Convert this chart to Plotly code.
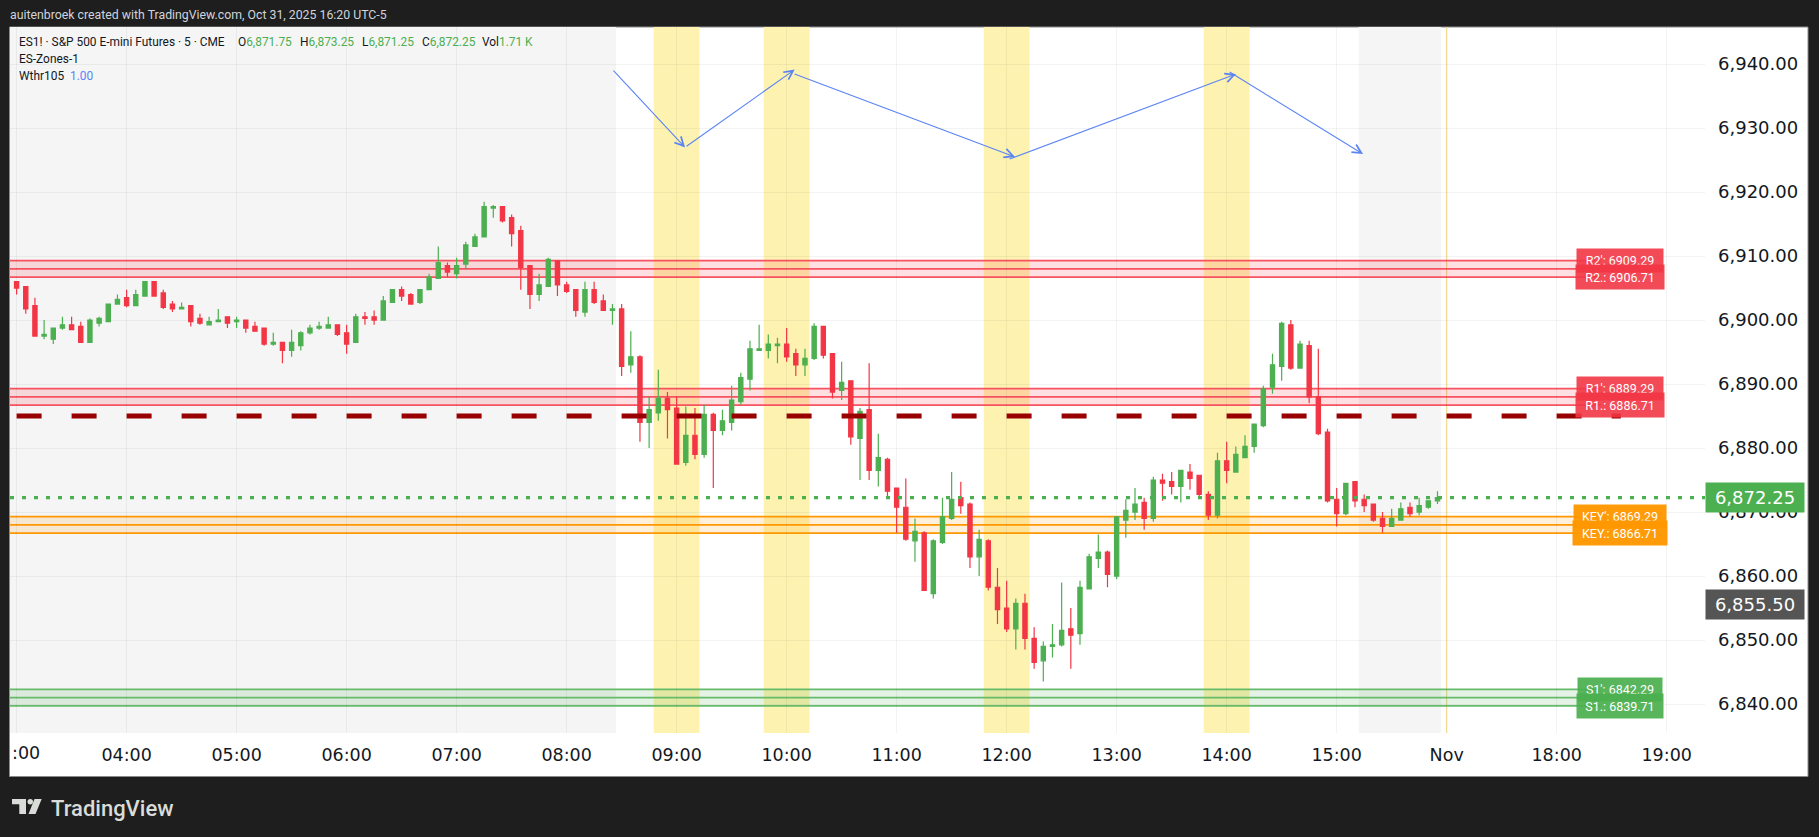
import pandas as pd
import plotly.graph_objects as go

open_vals = [6906,6905.25,6902.25,6897.5,6897,6898.75,6899.25,6899,6896.5,6899.5,6899.75,6902.5,6903.5,6902.25,6903.75,6906,
6904.25,6902.5,6901.75,6902.25,6900.25,6899.25,6899.75,6900.5,6899.75,6900,6899,6898.75,6896.25,6896.5,6895.25,6896,
6898,6898.75,6898.75,6899.25,6898,6896.5,6900.5,6900.5,6900,6902.75,6904.75,6904,6902.75,6904.75,6906.5,6908.5,
6907.25,6908.75,6911.5,6913,6917.5,6917.75,6916,6914,6908.5,6904,6905.25,6909.25,6905.5,6904.75,6901.25,6904.75,
6903,6901.5,6901.75,6893,6894.25,6884,6885.5,6887.75,6886.25,6877.75,6882,6879,6885.25,6882.75,6884,6887.25,
6890.75,6895.25,6895.25,6896,6896.25,6894.75,6893,6894,6899,6894.75,6889,6890.5,6881.5,6886,6876.5,6878.25,
6873.75,6870.75,6865.5,6866.75,6857.25,6865.25,6869,6872.25,6871.25,6863,6865.5,6858.25,6855,6851.75,6855.75,6850.25,
6846.75,6849,6849.25,6851.75,6851,6858,6862.75,6863.75,6860,6868.75,6870,6871.5,6869,6875,6874.75,6874,
6876.25,6875.75,6872.75,6869.5,6878,6876.25,6878.5,6880.25,6883.5,6889.5,6892.75,6899.25,6892.5,6896,6888,6882.5,
6872,6869.75,6874.75,6872,6871.25,6869,6867.75,6868.75,6870.75,6870,6870.75,6871.75]
high_vals = [6906,6905.25,6903.5,6900,6898.75,6900.5,6900.5,6899.75,6900.25,6900.5,6902.5,6904,6904.75,6904.75,6906,6906,
6904.75,6903,6902.75,6902.25,6901,6900.5,6901.75,6900.5,6900.5,6900,6899.75,6898.75,6898,6896.5,6898.5,6898.25,
6899.25,6899.75,6900.5,6899.25,6899.25,6901,6901.25,6901.5,6903.75,6904.75,6905.25,6904.25,6904.75,6907.25,6911.5,6909,
6909.75,6912.25,6913.5,6918.5,6918,6917.75,6916.5,6914.75,6908.5,6907.25,6909.75,6909.25,6906,6904.75,6906,6906,
6904,6902.5,6902.5,6898.25,6894.5,6888,6892.25,6888.75,6888,6886.5,6886.25,6886.75,6885.5,6886,6889.75,6891.75,
6896.75,6899.25,6897.75,6897.25,6898.75,6895.5,6895.5,6899.5,6899,6894.75,6893.5,6890.5,6886.25,6893.25,6882.25,6878.5,
6873.75,6875.25,6869,6867,6865.75,6872.25,6876.25,6874.75,6871.5,6867.25,6865.75,6861.25,6859.25,6856.5,6857.25,6852,
6849.75,6852.5,6859,6855,6859.25,6863.5,6866.5,6864,6869.25,6872,6873.75,6872.25,6875.5,6876,6876.25,6876.5,
6877.5,6875.75,6873.25,6879.25,6881,6880.25,6882,6883.75,6889.75,6894.75,6899.75,6900,6896.75,6896.75,6895.5,6883,
6873.75,6874.5,6874.75,6872.75,6871.25,6870,6870.5,6871.5,6871.5,6872.25,6871.75,6873.25]
low_vals = [6904,6901,6897.5,6897,6896.25,6898.5,6898.5,6896.5,6896.5,6899,6899.75,6902.5,6902,6902.25,6903.75,6903.75,
6901.75,6901.25,6901.75,6899,6899.25,6899.25,6899.75,6898.75,6898.75,6898,6898.25,6896,6896,6893.25,6894.25,6895.25,
6897.75,6898.5,6898.75,6897.5,6894.75,6896.5,6899.25,6899.25,6900,6902.75,6903,6902.5,6902.5,6904.75,6906.5,6906.75,
6906.5,6908,6911.5,6913,6916,6915.25,6911.5,6904.75,6901.75,6903,6905.25,6903.75,6904.25,6900.5,6900.5,6902.5,
6901.5,6899.25,6891.25,6891.75,6881,6880,6884.25,6881.5,6877.5,6877.25,6878.25,6878.5,6873.75,6882,6882.75,6886.75,
6889,6895.25,6894,6893.25,6893.5,6891.25,6891.25,6893.75,6894,6887.75,6887.5,6880.5,6875,6875,6874,6872.5,
6866.75,6865.5,6862.25,6857.75,6856.5,6865,6868.75,6869.75,6861.25,6860,6857.75,6852.5,6851.25,6848.5,6848.5,6845.5,
6843.5,6847.25,6849,6845.5,6849.25,6858,6861.25,6858.25,6859.5,6866,6868.75,6867.25,6868.5,6871.75,6872.75,6871.5,
6873.5,6872.5,6868.75,6869,6874.5,6876.25,6878.5,6879.25,6883.25,6888.5,6890.5,6892.25,6892.5,6887,6882,6871.5,
6867.75,6869.5,6870.75,6870,6868.5,6866.75,6867.75,6868.75,6869.25,6869.5,6870.5,6871.25]
close_vals = [6905,6901.75,6897.5,6897.75,6898.75,6899.25,6898.5,6896.5,6900,6900.25,6902.5,6903.25,6902.25,6904,6906,6903.75,
6902,6901.75,6902,6899.75,6899.5,6899.75,6900,6899.5,6900,6898.75,6898.25,6896.25,6896.5,6895.25,6896.5,6898,
6898.75,6899,6899.25,6897.75,6896.25,6900.5,6900.25,6900,6903,6904.75,6903.75,6902.5,6904.75,6906.75,6909,6907.5,
6908.5,6911.75,6913,6917.75,6917.75,6915.5,6913.5,6908.25,6904,6905.5,6909.5,6905.5,6904.5,6901.5,6904.75,6902.75,
6901.5,6901.75,6892.75,6894.25,6884,6886,6887.75,6886,6877.5,6882,6879,6885.25,6882.75,6884.25,6887.5,6891,
6895.5,6895.5,6896.25,6896.25,6894.25,6893,6894,6899,6894.5,6888.75,6890.25,6881.75,6885.75,6876.5,6878.5,6873.25,
6870.75,6865.75,6867,6857.75,6865.5,6869.25,6872,6871,6863,6865.75,6858.25,6854.75,6851.75,6855.75,6850.25,6846.5,
6849,6849.25,6851.5,6850.75,6858.25,6863,6863.75,6860.25,6869.25,6870.25,6871.25,6869,6875,6874.5,6874,6876.5,
6875.25,6872.75,6869.5,6878,6876.5,6879,6880.25,6883.75,6889.25,6893,6899.5,6892.5,6896.25,6888,6882.25,6871.75,
6869.75,6874.5,6871.75,6871,6868.75,6867.75,6869,6870.5,6869.75,6871,6871.75,6872.25]

day = "2025-10-31 "
bar_times = pd.date_range(day + "03:00", periods=len(open_vals), freq="5min")

tick_positions = ["03:00","04:00","05:00","06:00","07:00","08:00","09:00","10:00","11:00","12:00","13:00","14:00","15:00","16:00","17:00","18:00"]
tick_labels = ["03:00","04:00","05:00","06:00","07:00","08:00","09:00","10:00","11:00","12:00","13:00","14:00","15:00","Nov","18:00","19:00"]

yellow_starts = ["08:47:30","09:47:30","11:47:30","13:47:30"]
yellow_ends = ["09:12:30","10:12:30","12:12:30","14:12:30"]
offhour_starts = ["02:56:24","15:12:00"]
offhour_ends = ["08:27:00","15:57:00"]

zone_names = ["R2","R1","KEY","S1"]
zone_tops = [6909.29,6889.29,6869.29,6842.29]
zone_mids = [6908,6888,6868,6841]
zone_bottoms = [6906.71,6886.71,6866.71,6839.71]
zone_lines = ["#f7525f","#f7525f","#ff9800","#66bb6a"]
zone_fills = ["rgba(247,82,95,0.18)","rgba(247,82,95,0.18)","rgba(255,152,0,0.14)","rgba(76,175,80,0.15)"]
zone_tags = ["rgba(242,54,69,0.9)","rgba(242,54,69,0.9)","rgba(255,152,0,0.97)","rgba(76,175,80,0.93)"]
zone_widths = [82,82,88,80]

last_price = 6872.25
prev_close = 6855.50
dash_level = 6885

arrow_from_t = ["08:24:48","09:04:36","10:03:30","12:00:48","14:00:48"]
arrow_from_p = [6939.2,6927.0,6938.55,6925.08,6938.9]
arrow_to_t = ["09:04:36","10:04:24","12:04:36","14:05:06","15:14:24"]
arrow_to_p = [6926.98,6939.14,6925.5,6938.44,6925.94]

W, H = 1819, 837
L, R, T, B = 10, 1705, 27, 733
x_start = day + "02:56:24"
x_end = day + "18:20:54"
y_low, y_high = 6835.47, 6945.8

def px(v): return (v - L) / (R - L)
def py(v): return (B - v) / (B - T)

shapes = []
shapes.append(dict(type="rect", xref="paper", yref="paper", x0=px(9.5), x1=px(1808), y0=py(776.5), y1=py(27),
                   fillcolor="#ffffff", line=dict(color="#8a8a8a", width=1), layer="below"))
for a, b in zip(offhour_starts, offhour_ends):
    shapes.append(dict(type="rect", xref="x", yref="paper", x0=day + a, x1=day + b, y0=0, y1=1,
                       fillcolor="#f5f5f5", line=dict(width=0), layer="below"))
for a, b in zip(yellow_starts, yellow_ends):
    shapes.append(dict(type="rect", xref="x", yref="paper", x0=day + a, x1=day + b, y0=0, y1=1,
                       fillcolor="#fdf2b0", line=dict(width=0), layer="below"))
shapes.append(dict(type="line", xref="x", yref="paper", x0=day + "16:00", x1=day + "16:00", y0=0, y1=1,
                   line=dict(color="#fde59a", width=1.4), layer="below"))
zone_end = day + "17:24"
for top, mid, bot, lc, fc in zip(zone_tops, zone_mids, zone_bottoms, zone_lines, zone_fills):
    shapes.append(dict(type="rect", xref="x", yref="y", x0=x_start, x1=zone_end, y0=bot, y1=top,
                       fillcolor=fc, line=dict(width=0), layer="below"))
    for lev in (top, mid, bot):
        shapes.append(dict(type="line", xref="x", yref="y", x0=x_start, x1=zone_end, y0=lev, y1=lev,
                           line=dict(color=lc, width=1.7), layer="below"))
shapes.append(dict(type="rect", xref="paper", yref="paper", x0=px(-5), x1=px(9), y0=py(837), y1=py(0),
                   fillcolor="#1e1e1e", line=dict(width=0), layer="above"))
shapes.append(dict(type="line", xref="paper", yref="paper", x0=px(9.5), x1=px(9.5), y0=py(776.5), y1=py(27),
                   line=dict(color="#8a8a8a", width=1), layer="above"))
logo = "#d9dcd8"
shapes.append(dict(type="path", xref="paper", yref="paper", fillcolor=logo, line=dict(width=0), layer="above",
                   path=f"M{px(12)},{py(799)} H{px(26)} V{py(814)} H{px(19.3)} V{py(804.3)} H{px(12)} Z"))
shapes.append(dict(type="circle", xref="paper", yref="paper", fillcolor=logo, line=dict(width=0), layer="above",
                   x0=px(27.5), x1=px(33), y0=py(804.5), y1=py(799)))
shapes.append(dict(type="path", xref="paper", yref="paper", fillcolor=logo, line=dict(width=0), layer="above",
                   path=f"M{px(34.5)},{py(799)} H{px(41.7)} L{px(35.5)},{py(814)} H{px(28.5)} Z"))

annotations = []
def text(x, y, s, size=13, color="#131722", family="Roboto", anchor="left", weight="normal"):
    annotations.append(dict(xref="paper", yref="paper", x=px(x), y=py(y), text=s, showarrow=False,
                            xanchor=anchor, yanchor="middle",
                            font=dict(size=size, color=color, family=family, weight=weight)))

text(8, 15, "auitenbroek created with TradingView.com, Oct 31, 2025 16:20 UTC-5", size=12.3, color="#d1d4dc")
text(17, 41.7, "ES1! · S&amp;P 500 E-mini Futures · 5 · CME", size=11.9)
G = '<span style="color:#4caf50">%s</span>'
legend_x = [236, 298, 359.5, 419.5, 480]
legend_txt = ["O" + G % "6,871.75", "H" + G % "6,873.25", "L" + G % "6,871.25", "C" + G % "6,872.25", "Vol" + G % "1.71 K"]
for lx, lt in zip(legend_x, legend_txt):
    text(lx, 41.7, lt, size=11.9)
text(17, 59, "ES-Zones-1", size=11.9)
text(17, 76, 'Wthr105 &nbsp;<span style="color:#5b84f5">1.00</span>', size=11.9)
text(49, 808, "TradingView", size=22, color=logo, weight=500)
text(10, 753, ":00", size=17.5, family="DejaVu Sans")

for f, fp, t, tp in zip(arrow_from_t, arrow_from_p, arrow_to_t, arrow_to_p):
    annotations.append(dict(xref="x", yref="y", axref="x", ayref="y", x=day + t, y=tp, ax=day + f, ay=fp, text="",
                            showarrow=True, arrowhead=5, arrowsize=1.6, arrowwidth=1.1, arrowcolor="#5b84f5"))

for name, top, bot, tag, w in zip(zone_names, zone_tops, zone_bottoms, zone_tags, zone_widths):
    annotations.append(dict(xref="paper", yref="y", x=px(1620), y=top, text=f"{name}': {top:.2f}", showarrow=False,
                            xanchor="center", yanchor="middle", width=w, height=19, borderpad=2, bgcolor=tag,
                            font=dict(size=12.5, color="#ffffff", family="Roboto")))
    annotations.append(dict(xref="paper", yref="y", x=px(1620), y=bot, text=f"{name}.: {bot:.2f}", showarrow=False,
                            xanchor="center", yanchor="middle", width=w + 2, height=20, borderpad=2, bgcolor=tag,
                            font=dict(size=12.5, color="#ffffff", family="Roboto")))

for val, col in ((last_price, "#4caf50"), (prev_close, "#555555")):
    annotations.append(dict(xref="paper", yref="y", x=px(1755), y=val, text=f"{val:,.2f}", showarrow=False,
                            xanchor="center", yanchor="middle", width=98, height=29, borderpad=0, bgcolor=col,
                            font=dict(size=18, color="#ffffff", family="DejaVu Sans")))

fig = go.Figure()
fig.add_trace(go.Scatter(x=[day + "03:00", day + "17:35"], y=[dash_level, dash_level], mode="lines",
                         line=dict(color="#990000", width=5, dash="25px,30px"), hoverinfo="skip", showlegend=False))
fig.add_trace(go.Candlestick(x=bar_times, open=open_vals, high=high_vals, low=low_vals, close=close_vals,
                             increasing=dict(line=dict(color="#4caf50", width=1.2), fillcolor="#4caf50"),
                             decreasing=dict(line=dict(color="#f23645", width=1.2), fillcolor="#f23645"),
                             whiskerwidth=0, showlegend=False))
fig.add_trace(go.Scatter(x=[x_start, x_end], y=[last_price, last_price], mode="lines",
                         line=dict(color="#4caf50", width=3.4, dash="4px,8px"), hoverinfo="skip", showlegend=False))

fig.update_layout(
    width=W, height=H, autosize=False,
    margin=dict(l=L, r=W - R, t=T, b=H - B, pad=0),
    paper_bgcolor="#1e1e1e", plot_bgcolor="#ffffff", showlegend=False, boxgap=0.34,
    shapes=shapes, annotations=annotations,
    xaxis=dict(type="date", range=[x_start, x_end], rangeslider=dict(visible=False), showline=False, zeroline=False,
               tickmode="array", tickvals=[day + t for t in tick_positions], ticktext=tick_labels,
               showgrid=True, gridcolor="rgba(42,46,57,0.06)", gridwidth=1, ticks="", ticklabelstandoff=9,
               tickfont=dict(family="DejaVu Sans", size=17.5, color="#131722")),
    yaxis=dict(side="right", range=[y_low, y_high], tick0=6840, dtick=10, tickformat=",.2f", showline=False, zeroline=False,
               showgrid=True, gridcolor="rgba(42,46,57,0.06)", gridwidth=1, ticks="", ticklabelstandoff=12,
               tickfont=dict(family="DejaVu Sans", size=18, color="#131722")),
)
fig.write_html("out.html", config=dict(displayModeBar=False),
               post_script="document.body.style.margin='0';document.body.style.overflow='hidden';")
